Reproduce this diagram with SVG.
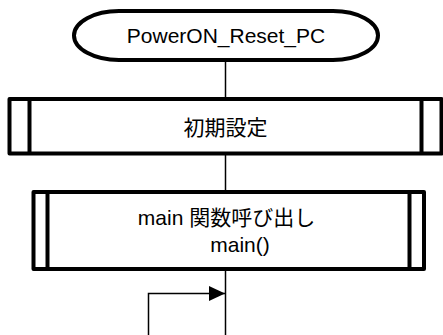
<svg xmlns="http://www.w3.org/2000/svg" width="443" height="335" viewBox="0 0 443 335">
<style>
.shape{fill:#fff;stroke:#000;stroke-width:4;stroke-linejoin:round}
.bar{stroke:#000;stroke-width:4}
.conn{fill:none;stroke:#000;stroke-width:1.5}
text{font-family:"Liberation Sans","Noto Sans CJK JP",sans-serif;font-size:21px;fill:#000}
</style>
<defs>
<marker id="arr" markerWidth="16" markerHeight="15" refX="16" refY="7.5" orient="auto" markerUnits="userSpaceOnUse">
<path d="M0,0 L16,7.5 L0,15 Z" fill="#000"/>
</marker>
</defs>
<g id="connectors">
<line class="conn" x1="225.5" y1="60" x2="225.5" y2="99"/>
<line class="conn" x1="225.5" y1="153.5" x2="225.5" y2="192"/>
<line class="conn" x1="225.5" y1="269" x2="225.5" y2="335"/>
<path class="conn" d="M148.5,335 L148.5,293.5 L225,293.5" marker-end="url(#arr)"/>
</g>
<g id="start">
<rect class="shape" x="74" y="11" width="304" height="49" rx="45" ry="24.5"/>
<text x="226" y="43" text-anchor="middle">PowerON_Reset_PC</text>
</g>
<g id="init">
<rect class="shape" x="9.5" y="99" width="432" height="54.5"/>
<line class="bar" x1="29.5" y1="99" x2="29.5" y2="153.5"/>
<line class="bar" x1="421.5" y1="99" x2="421.5" y2="153.5"/>
<text x="225.5" y="135" text-anchor="middle">初期設定</text>
</g>
<g id="main">
<rect class="shape" x="33.5" y="192" width="390.5" height="77"/>
<line class="bar" x1="47.5" y1="192" x2="47.5" y2="269"/>
<line class="bar" x1="409.5" y1="192" x2="409.5" y2="269"/>
<text x="226.5" y="225" text-anchor="middle">main 関数呼び出し</text>
<text x="240" y="252" text-anchor="middle">main()</text>
</g>
</svg>
